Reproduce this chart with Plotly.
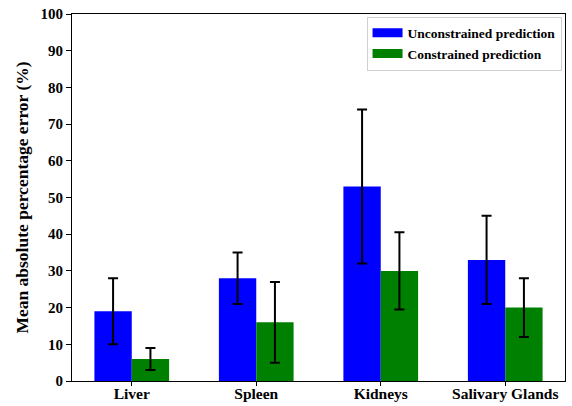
import plotly.graph_objects as go

# Organs on the x axis
organs = ["Liver", "Spleen", "Kidneys", "Salivary Glands"]

# Mean absolute percentage error (%) and its spread for each model
unconstrained_mean = [19, 28, 53, 33]
unconstrained_err = [9, 7, 21, 12]
constrained_mean = [6, 16, 30, 20]
constrained_err = [3, 11, 10.5, 8]

series_names = ["Unconstrained prediction", "Constrained prediction"]
series_colors = ["#0000ff", "#008000"]

y_ticks = list(range(0, 101, 10))

serif = "Liberation Serif"

fig = go.Figure()

for name, color, mean, err in zip(
    series_names,
    series_colors,
    [unconstrained_mean, constrained_mean],
    [unconstrained_err, constrained_err],
):
    fig.add_trace(
        go.Bar(
            x=organs,
            y=mean,
            name=name,
            marker=dict(color=color, line=dict(width=0)),
            error_y=dict(
                type="data",
                array=err,
                visible=True,
                color="black",
                thickness=2,
                width=5,
            ),
            showlegend=False,
        )
    )

# Legend entries drawn as wide line swatches
for name, color in zip(series_names, series_colors):
    fig.add_trace(
        go.Scatter(
            x=[None],
            y=[None],
            mode="lines",
            name=name,
            line=dict(color=color, width=9),
            showlegend=True,
        )
    )

fig.update_layout(
    width=572,
    height=406,
    margin=dict(l=72, r=7, t=14, b=25),
    paper_bgcolor="white",
    plot_bgcolor="white",
    barmode="group",
    bargap=0.4,
    bargroupgap=0,
    font=dict(family=serif, color="black"),
    legend=dict(
        x=0.993,
        y=0.993,
        xanchor="right",
        yanchor="top",
        bgcolor="white",
        bordercolor="#d0d0d0",
        borderwidth=1,
        font=dict(family=serif, size=13.5, color="black", weight="bold"),
        itemwidth=30,
        tracegroupgap=0,
    ),
)

fig.update_xaxes(
    type="category",
    range=[-0.48, 3.48],
    automargin=False,
    showline=True,
    linecolor="black",
    linewidth=1,
    mirror=True,
    ticks="outside",
    ticklen=4,
    tickcolor="black",
    ticklabelstandoff=-6,
    tickfont=dict(family=serif, size=15.5, color="black", weight="bold"),
    showgrid=False,
    zeroline=False,
)

fig.update_yaxes(
    range=[0, 100],
    tickvals=y_ticks,
    automargin=False,
    showline=True,
    linecolor="black",
    linewidth=1,
    mirror=True,
    ticks="outside",
    ticklen=5,
    tickcolor="black",
    tickfont=dict(family=serif, size=15, color="black", weight="bold"),
    title=dict(
        text="<b>Mean absolute percentage error (%)</b>",
        font=dict(family=serif, size=17.5, color="black"),
        standoff=7,
    ),
    showgrid=False,
    zeroline=False,
)

fig.write_html("out.html")
